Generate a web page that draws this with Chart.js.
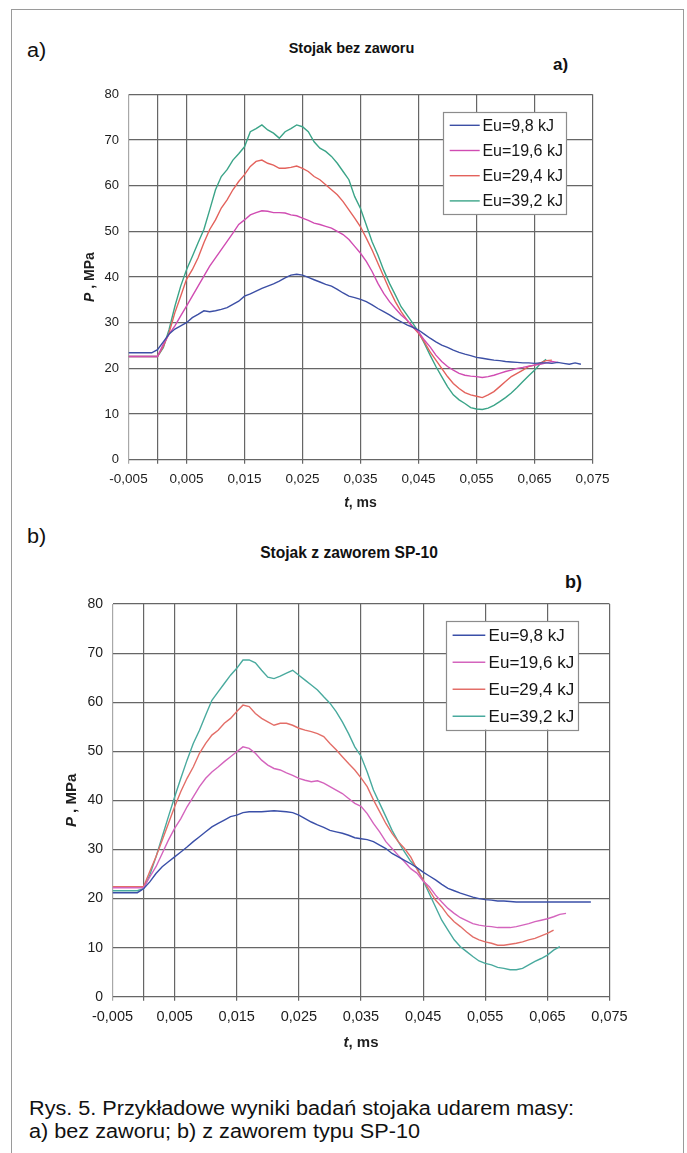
<!DOCTYPE html>
<html lang="pl">
<head>
<meta charset="utf-8">
<title>Stojak – wyniki badań udarem masy</title>
<script src="https://cdn.jsdelivr.net/npm/chart.js@4.4.1/dist/chart.umd.min.js"></script>
<style>
  body { margin: 0; background: #fff; font-family: "Liberation Sans", Arial, sans-serif; color: #111; }
  #page { position: relative; width: 687px; height: 1153px; overflow: hidden; background: #fff; }
  .frame { position: absolute; left: 11px; top: 9px; width: 671px; height: 1160px; border: 1.5px solid #9a9a9a; border-bottom: none; }
  .txt { position: absolute; white-space: nowrap; line-height: 1; }
  .wide { transform: scaleX(1.11); transform-origin: 0 50%; }
  .center { transform: translateX(-50%); }
  canvas { position: absolute; left: 0; }
</style>
</head>
<body>
<div id="page">
  <div class="frame"></div>

  <div class="txt wide" style="left:26.7px; top:41px; font-size:19.5px;">a)</div>
  <div class="txt center" style="left:351.5px; top:41px; font-size:14.5px; font-weight:bold;">Stojak bez zaworu</div>
  <div class="txt" style="left:553px; top:55.5px; font-size:17px; font-weight:bold;">a)</div>
  <canvas id="chartA" width="687" height="520" style="top:0;"></canvas>

  <div class="txt wide" style="left:26.7px; top:527px; font-size:19.5px;">b)</div>
  <div class="txt center" style="left:349px; top:545px; font-size:15.6px; font-weight:bold;">Stojak z zaworem SP-10</div>
  <div class="txt" style="left:565px; top:573px; font-size:18px; font-weight:bold;">b)</div>
  <canvas id="chartB" width="687" height="500" style="top:560px;"></canvas>

  <div class="txt wide" style="left:29.3px; top:1096.6px; font-size:19.5px; line-height:23.4px;">
    Rys. 5. Przykładowe wyniki badań stojaka udarem masy:<br>
    a) bez zaworu; b) z zaworem typu SP-10
  </div>
</div>

<script>
// --- Pressure traces P(t) for four impact energies ---

const seriesLabels = ['Eu=9,8 kJ', 'Eu=19,6 kJ', 'Eu=29,4 kJ', 'Eu=39,2 kJ'];
const tTicks = [-0.005, 0, 0.005, 0.015, 0.025, 0.035, 0.045, 0.055, 0.065, 0.075];
const pTicks = [0, 10, 20, 30, 40, 50, 60, 70, 80];

// a) stojak bez zaworu
const timeA = [
  -0.005, -0.004, -0.003, -0.002, -0.001,
  0.000, 0.001, 0.002, 0.003, 0.004, 0.005, 0.006, 0.007, 0.008, 0.009,
  0.010, 0.011, 0.012, 0.013, 0.014, 0.015, 0.016, 0.017, 0.018, 0.019,
  0.020, 0.021, 0.022, 0.023, 0.024, 0.025, 0.026, 0.027, 0.028, 0.029,
  0.030, 0.031, 0.032, 0.033, 0.034, 0.035, 0.036, 0.037, 0.038, 0.039,
  0.040, 0.041, 0.042, 0.043, 0.044, 0.045, 0.046, 0.047, 0.048, 0.049,
  0.050, 0.051, 0.052, 0.053, 0.054, 0.055, 0.056, 0.057, 0.058, 0.059,
  0.060, 0.061, 0.062, 0.063, 0.064, 0.065, 0.066, 0.067, 0.068, 0.069,
  0.070, 0.071, 0.072, 0.073
];
const pA98 = [
  23.4, 23.4, 23.4, 23.4, 23.4,
  24.1, 25.8, 27.5, 28.6, 29.3, 30.0, 31.1, 31.8, 32.6, 32.4,
  32.6, 32.9, 33.3, 34.0, 34.7, 35.8, 36.3, 36.9, 37.5, 38.0,
  38.5, 39.1, 39.8, 40.4, 40.6, 40.4, 39.9, 39.4, 38.9, 38.4,
  38.0, 37.3, 36.5, 35.8, 35.5, 35.1, 34.6, 33.9, 33.1, 32.4,
  31.7, 30.9, 30.2, 29.5, 29.0, 28.4, 27.5, 26.6, 25.8, 25.1,
  24.6, 24.0, 23.5, 23.1, 22.8, 22.4, 22.2, 22.0, 21.8, 21.7,
  21.5, 21.4, 21.3, 21.2, 21.2, 21.1, 21.2, 21.2, 21.1, 21.3,
  21.1, 20.9, 21.2, 20.9
];
const pA196 = [
  22.6, 22.6, 22.6, 22.6, 22.6,
  22.6, 25.3, 27.5, 29.3, 31.5, 33.6, 35.8, 38.0, 40.2, 42.4,
  44.2, 46.0, 47.8, 49.6, 51.5, 52.5, 53.6, 54.1, 54.5, 54.4,
  54.1, 54.1, 54.0, 53.6, 53.4, 52.9, 52.4, 51.8, 51.5, 51.1,
  50.7, 50.0, 49.3, 48.2, 46.7, 45.2, 43.4, 41.2, 38.6, 36.4,
  34.6, 33.1, 31.7, 30.6, 29.1, 28.0, 26.2, 24.7, 22.9, 21.5,
  20.4, 19.6, 18.9, 18.5, 18.3, 18.2, 18.0, 18.2, 18.5, 18.9,
  19.3, 19.6, 20.0, 20.2, 20.5, 20.7, 20.9, 21.2, 21.5, 21.3
];
const pA294 = [
  22.6, 22.6, 22.6, 22.6, 22.6,
  22.6, 24.8, 27.8, 32.2, 35.8, 39.5, 41.6, 44.2, 47.5, 50.4,
  52.5, 55.1, 56.9, 59.1, 60.9, 62.4, 64.2, 65.3, 65.6, 64.9,
  64.5, 63.8, 63.8, 64.0, 64.3, 63.8, 63.1, 62.0, 61.3, 60.2,
  59.1, 58.0, 56.5, 54.7, 52.9, 51.0, 48.5, 45.9, 43.0, 40.1,
  37.2, 34.6, 32.4, 30.6, 29.1, 27.7, 25.8, 23.6, 21.8, 20.0,
  18.2, 16.7, 15.6, 14.7, 14.2, 13.9, 13.6, 14.2, 14.9, 16.0,
  17.1, 18.2, 18.9, 19.6, 20.4, 20.7, 21.2, 21.7, 21.8
];
const pA392 = [
  22.6, 22.6, 22.6, 22.6, 22.6,
  22.6, 24.5, 28.5, 33.6, 38.0, 41.6, 44.5, 47.5, 50.4, 54.7,
  59.1, 62.0, 63.5, 65.6, 67.0, 68.5, 71.8, 72.5, 73.3, 72.2,
  71.5, 70.4, 71.8, 72.5, 73.3, 72.9, 71.8, 69.6, 68.2, 67.5,
  66.4, 64.9, 63.1, 61.3, 57.6, 55.0, 51.4, 47.7, 44.8, 41.5,
  38.6, 36.1, 33.5, 31.7, 29.9, 28.0, 25.5, 22.9, 20.4, 18.2,
  16.0, 14.2, 13.1, 12.3, 11.4, 11.1, 11.0, 11.3, 11.9, 12.7,
  13.6, 14.6, 15.8, 17.1, 18.4, 19.6, 21.0, 22.0
];

// b) stojak z zaworem SP-10
const timeB = [
  -0.005, -0.004, -0.003, -0.002, -0.001,
  0.000, 0.001, 0.002, 0.003, 0.004, 0.005, 0.006, 0.007, 0.008, 0.009,
  0.010, 0.011, 0.012, 0.013, 0.014, 0.015, 0.016, 0.017, 0.018, 0.019,
  0.020, 0.021, 0.022, 0.023, 0.024, 0.025, 0.026, 0.027, 0.028, 0.029,
  0.030, 0.031, 0.032, 0.033, 0.034, 0.035, 0.036, 0.037, 0.038, 0.039,
  0.040, 0.041, 0.042, 0.043, 0.044, 0.045, 0.046, 0.047, 0.048, 0.049,
  0.050, 0.051, 0.052, 0.053, 0.054, 0.055, 0.056, 0.057, 0.058, 0.059,
  0.060, 0.061, 0.062, 0.063, 0.064, 0.065, 0.066, 0.067, 0.068, 0.069,
  0.070, 0.071, 0.072
];
const pB98 = [
  21.2, 21.2, 21.2, 21.2, 21.2,
  22.0, 23.4, 25.1, 26.5, 27.5, 28.5, 29.5, 30.5, 31.6, 32.6,
  33.6, 34.6, 35.3, 36.0, 36.7, 37.0, 37.5, 37.7, 37.7, 37.7,
  37.8, 37.9, 37.8, 37.7, 37.5, 37.0, 36.3, 35.6, 35.0, 34.5,
  33.9, 33.6, 33.3, 32.9, 32.4, 32.2, 32.0, 31.6, 30.9, 30.2,
  29.2, 28.5, 27.8, 27.1, 26.3, 25.4, 24.6, 23.8, 22.9, 22.1,
  21.6, 21.1, 20.7, 20.3, 20.0, 19.8, 19.7, 19.5, 19.5, 19.4,
  19.3, 19.3, 19.3, 19.3, 19.3, 19.3, 19.3, 19.3, 19.3, 19.3,
  19.3, 19.3, 19.3
];
const pB196 = [
  22.2, 22.2, 22.2, 22.2, 22.2,
  22.2, 24.4, 26.5, 29.2, 31.9, 34.3, 36.3, 38.7, 40.7, 42.8,
  44.5, 45.8, 46.8, 47.9, 48.9, 49.9, 50.9, 50.6, 49.6, 48.2,
  47.2, 46.5, 46.2, 45.6, 45.1, 44.5, 44.1, 43.8, 44.0, 43.5,
  42.8, 42.1, 41.4, 40.4, 39.4, 38.8, 37.3, 35.3, 33.6, 31.6,
  30.2, 28.8, 27.5, 26.1, 25.2, 23.6, 22.4, 20.7, 19.3, 18.0,
  17.0, 16.1, 15.5, 14.9, 14.6, 14.4, 14.3, 14.1, 14.1, 14.1,
  14.3, 14.6, 14.9, 15.3, 15.6, 15.9, 16.3, 16.8, 17.0
];
const pB294 = [
  22.4, 22.4, 22.4, 22.4, 22.4,
  22.4, 25.5, 28.5, 31.9, 35.3, 38.7, 41.8, 44.5, 46.8, 49.6,
  51.6, 53.3, 54.3, 55.7, 56.7, 58.1, 59.4, 59.1, 57.7, 56.7,
  56.0, 55.3, 55.7, 55.7, 55.3, 54.7, 54.3, 54.0, 53.6, 53.0,
  51.6, 50.3, 48.9, 47.5, 46.2, 44.6, 42.8, 40.1, 37.7, 35.3,
  33.3, 31.6, 30.2, 28.5, 26.0, 23.8, 21.7, 19.7, 18.3, 16.6,
  15.3, 14.3, 13.2, 12.2, 11.6, 11.2, 10.9, 10.5, 10.5, 10.7,
  10.9, 11.2, 11.6, 11.9, 12.4, 12.9, 13.6
];
const pB392 = [
  21.6, 21.6, 21.6, 21.6, 21.6,
  22.0, 24.8, 28.5, 32.6, 36.7, 40.7, 44.5, 48.2, 51.6, 54.3,
  57.4, 60.4, 62.1, 63.8, 65.5, 66.9, 68.6, 68.6, 68.0, 66.5,
  65.1, 64.8, 65.3, 65.9, 66.5, 65.5, 64.5, 63.5, 62.5, 61.1,
  59.8, 58.1, 56.0, 53.6, 50.9, 49.0, 45.8, 42.1, 39.4, 36.7,
  33.9, 31.6, 29.5, 27.6, 26.3, 23.7, 21.0, 18.3, 15.6, 13.6,
  11.6, 10.2, 9.2, 8.2, 7.3, 6.8, 6.5, 6.0, 5.8, 5.5,
  5.5, 5.8, 6.5, 7.2, 7.8, 8.5, 9.5, 10.2
];

const FONT = '"Liberation Sans", Arial, sans-serif';

// boxed legend sitting inside the plot, top right
const boxLegend = {
  id: 'boxLegend',
  afterDatasetsDraw(chart, args, o) {
    const { ctx, chartArea: a } = chart;
    const x0 = Math.round(a.right - o.right - o.width);
    const y0 = Math.round(a.top + o.top);
    ctx.save();
    ctx.fillStyle = '#fff';
    ctx.fillRect(x0, y0, o.width, o.height);
    ctx.strokeStyle = '#8c8c8c';
    ctx.lineWidth = 1.2;
    ctx.strokeRect(x0 + 0.5, y0 + 0.5, Math.round(o.width), Math.round(o.height));
    ctx.font = `${o.size}px ${FONT}`;
    ctx.textBaseline = 'middle';
    chart.data.datasets.forEach((ds, i) => {
      const y = y0 + o.first + i * o.step;
      ctx.strokeStyle = ds.borderColor;
      ctx.lineWidth = 1.4;
      ctx.beginPath();
      ctx.moveTo(x0 + o.lineX, y);
      ctx.lineTo(x0 + o.lineX + o.lineLen, y);
      ctx.stroke();
      ctx.fillStyle = '#161616';
      ctx.fillText(ds.label, x0 + o.textX, y + 1);
    });
    ctx.restore();
  }
};

// axis titles with the italic symbol: "t, ms" and "P , MPa"
const axisCaptions = {
  id: 'axisCaptions',
  afterDraw(chart, args, o) {
    const { ctx, chartArea: a } = chart;
    const bold = `bold ${o.size}px ${FONT}`;
    const ital = `italic bold ${o.size}px ${FONT}`;
    const put = (sym, rest, cx, cy) => {
      ctx.font = ital;
      const w1 = ctx.measureText(sym).width;
      ctx.font = bold;
      const w2 = ctx.measureText(rest).width;
      const x = cx - (w1 + w2) / 2;
      ctx.font = ital;
      ctx.fillText(sym, x, cy);
      ctx.font = bold;
      ctx.fillText(rest, x + w1, cy);
    };
    ctx.save();
    ctx.fillStyle = '#1e1e1e';
    ctx.textBaseline = 'middle';
    ctx.textAlign = 'left';
    put('t', ', ms', (a.left + a.right) / 2, a.bottom + o.xGap);
    ctx.translate(a.left - o.yGap, (a.top + a.bottom) / 2);
    ctx.rotate(-Math.PI / 2);
    put('P', ' , MPa', 0, 0);
    ctx.restore();
  }
};

const fmtT = v => (v === 0 ? '' : v.toFixed(3).replace('.', ','));

function buildChart(id, times, series, colors, opt) {
  const datasets = series.map((vals, i) => ({
    label: seriesLabels[i],
    data: vals.map((p, j) => ({ x: times[j], y: p })),
    borderColor: colors[i],
    borderWidth: 1.4,
    pointRadius: 0,
    tension: 0,
    fill: false
  }));

  return new Chart(document.getElementById(id), {
    type: 'line',
    data: { datasets },
    options: {
      responsive: false,
      animation: false,
      layout: { padding: opt.padding },
      plugins: {
        legend: { display: false },
        tooltip: { enabled: false },
        boxLegend: opt.legend,
        axisCaptions: opt.captions
      },
      scales: {
        x: {
          type: 'linear',
          min: -0.005,
          max: 0.075,
          afterBuildTicks: s => { s.ticks = tTicks.map(v => ({ value: v })); },
          afterFit: s => { s.height = opt.xHeight; },
          ticks: {
            autoSkip: false, maxRotation: 0, padding: 7, color: '#1c1c1c',
            font: { family: FONT, size: opt.xTickSize },
            callback: fmtT
          },
          grid: {
            color: c => (c.tick && c.tick.value === -0.005 ? '#a8a8a8' : '#666'),
            lineWidth: 1.2,
            tickLength: 4
          },
          border: { display: false }
        },
        y: {
          min: 0,
          max: 80,
          afterBuildTicks: s => { s.ticks = pTicks.map(v => ({ value: v })); },
          afterFit: s => { s.width = opt.yWidth; },
          ticks: {
            padding: 9.5, color: '#1c1c1c',
            font: { family: FONT, size: opt.yTickSize },
            callback: v => String(v)
          },
          grid: { color: '#666', lineWidth: 1.2, drawTicks: false },
          border: { display: false }
        }
      }
    },
    plugins: [boxLegend, axisCaptions]
  });
}

buildChart('chartA', timeA, [pA98, pA196, pA294, pA392],
  ['#3c4fa5', '#d04cb2', '#e3625c', '#3ba488'],
  {
    padding: { top: 94.3, left: 0, right: 94.5, bottom: 20.3 },
    yWidth: 128.5, xHeight: 40, xTickSize: 13.5, yTickSize: 13,
    legend: { right: 25.8, top: 17.4, width: 123.4, height: 102.3, first: 13.3, step: 25.2,
              lineX: 6.7, lineLen: 30, textX: 39.4, size: 16 },
    captions: { size: 14, xGap: 43.6, yGap: 38.5 }
  });

buildChart('chartB', timeB, [pB98, pB196, pB294, pB392],
  ['#3a4fa8', '#d464bd', '#e36e68', '#49aa9e'],
  {
    padding: { top: 44, left: 0, right: 77.5, bottom: 23.2 },
    yWidth: 112.5, xHeight: 40, xTickSize: 14.5, yTickSize: 14,
    legend: { right: 31.8, top: 16.7, width: 132, height: 108.6, first: 14.3, step: 27,
              lineX: 6.6, lineLen: 32.7, textX: 42.6, size: 17 },
    captions: { size: 15, xGap: 46.5, yGap: 40.9 }
  });
</script>
</body>
</html>
